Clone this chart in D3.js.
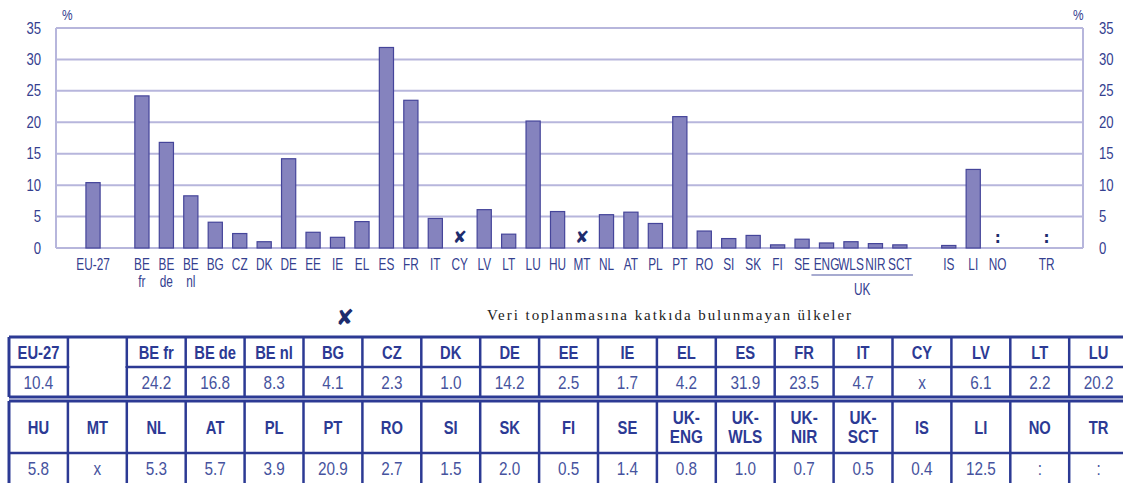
<!DOCTYPE html>
<html>
<head>
<meta charset="utf-8">
<script src="https://cdn.jsdelivr.net/npm/d3@7"></script>
<style>
  body { margin: 0; background: #fff; }
  svg { display: block; }
</style>
</head>
<body>
<script>
// data
var categories = ["EU-27","BE fr","BE de","BE nl","BG","CZ","DK","DE","EE","IE","EL","ES","FR","IT","CY","LV","LT","LU",
  "HU","MT","NL","AT","PL","PT","RO","SI","SK","FI","SE","UK-ENG","UK-WLS","UK-NIR","UK-SCT","IS","LI","NO","TR"];
var values = [10.4,24.2,16.8,8.3,4.1,2.3,1.0,14.2,2.5,1.7,4.2,31.9,23.5,4.7,"x",6.1,2.2,20.2,
  5.8,"x",5.3,5.7,3.9,20.9,2.7,1.5,2.0,0.5,1.4,0.8,1.0,0.7,0.5,0.4,12.5,":",":"];
// axis labels under the bars (two lines where needed)
var chartLabels = ["EU-27","BE|fr","BE|de","BE|nl","BG","CZ","DK","DE","EE","IE","EL","ES","FR","IT","CY","LV","LT","LU",
  "HU","MT","NL","AT","PL","PT","RO","SI","SK","FI","SE","ENG","WLS","NIR","SCT","IS","LI","NO","TR"];
// order of slots on the x axis, with empty slots
var slots = ["EU-27","_g1","BE fr","BE de","BE nl","BG","CZ","DK","DE","EE","IE","EL","ES","FR","IT","CY","LV","LT","LU",
  "HU","MT","NL","AT","PL","PT","RO","SI","SK","FI","SE","UK-ENG","UK-WLS","UK-NIR","UK-SCT","_g2","IS","LI","NO","_g3","TR"];
var ukGroup = ["UK-ENG","UK-WLS","UK-NIR","UK-SCT"];
var yTicks = [0,5,10,15,20,25,30,35];
// table rows
var tableTop = ["EU-27","","BE fr","BE de","BE nl","BG","CZ","DK","DE","EE","IE","EL","ES","FR","IT","CY","LV","LT","LU"];
var tableBottom = ["HU","MT","NL","AT","PL","PT","RO","SI","SK","FI","SE","UK-ENG","UK-WLS","UK-NIR","UK-SCT","IS","LI","NO","TR"];
var legendText = "Veri toplanmasına katkıda bulunmayan ülkeler";

var W = 1123, H = 483;
var navy = "#2c3a94", textBlue = "#34408f", grid = "#b7b6dc";
var sans = "'Liberation Sans', Arial, sans-serif";

var svg = d3.select("body").append("svg").attr("width", W).attr("height", H);

// squeezed text, since no condensed font is around
function label(g, cx, cy, lines, opt) {
  var t = g.append("text")
    .attr("transform", "translate(" + cx + "," + cy + ") scale(" + opt.sx + ",1)")
    .attr("text-anchor", opt.anchor || "middle")
    .attr("font-family", sans).attr("font-size", opt.size)
    .attr("font-weight", opt.bold ? "bold" : "normal")
    .attr("fill", opt.fill);
  lines.forEach(function(p, i) {
    t.append("tspan").attr("x", 0).attr("y", i * (opt.lh || 17)).text(p);
  });
  return t;
}

var plotL = 56, plotR = 1083;
var x = d3.scaleBand().domain(slots).range([80.8, 1058.8]).paddingInner(0.42).paddingOuter(0.21);
var y = d3.scaleLinear().domain([0, 35]).range([248, 28]);

var lookup = {};
categories.forEach(function(c, i) { lookup[c] = {label: chartLabels[i], value: values[i]}; });

svg.append("defs").append("clipPath").attr("id", "rclip")
  .append("rect").attr("x", 0).attr("y", 0).attr("width", 1115).attr("height", H);

// gridlines
svg.append("g").selectAll("line").data(yTicks).enter().append("line")
  .attr("x1", plotL).attr("x2", plotR)
  .attr("y1", function(d) { return y(d); }).attr("y2", function(d) { return y(d); })
  .attr("stroke", grid).attr("stroke-width", 2);

svg.append("line").attr("x1", plotL).attr("x2", plotL).attr("y1", y(35)).attr("y2", y(0))
  .attr("stroke", grid).attr("stroke-width", 2);
svg.append("line").attr("x1", plotR).attr("x2", plotR).attr("y1", y(35)).attr("y2", y(0))
  .attr("stroke", grid).attr("stroke-width", 2);

// y axes (ticks from d3, text squeezed)
var yl = svg.append("g").attr("transform", "translate(" + (plotL - 15) + ",0)")
  .call(d3.axisLeft(y).tickValues(yTicks).tickSize(0).tickPadding(0));
var yr = svg.append("g").attr("clip-path", "url(#rclip)").append("g")
  .attr("transform", "translate(" + (plotR + 16) + ",0)")
  .call(d3.axisRight(y).tickValues(yTicks).tickSize(0).tickPadding(0));
[yl, yr].forEach(function(g) {
  g.select(".domain").remove();
  g.attr("font-family", sans).attr("font-size", 16);
  g.selectAll("text").attr("fill", textBlue).attr("transform", "scale(0.82,1)")
    .attr("x", function() { return 0; });
});

label(svg, 62, 20, ["%"], {sx: 0.85, size: 14, fill: textBlue, anchor: "start"});
label(svg, 1073, 20, ["%"], {sx: 0.85, size: 14, fill: textBlue, anchor: "start"});

// bars
var numeric = categories.filter(function(c) { return typeof lookup[c].value === "number"; });
svg.append("g").selectAll("rect").data(numeric).enter().append("rect")
  .attr("x", function(d) { return x(d); })
  .attr("width", x.bandwidth())
  .attr("y", function(d) { return y(lookup[d].value); })
  .attr("height", function(d) { return y(0) - y(lookup[d].value); })
  .attr("fill", "#8583be").attr("stroke", "#45459a").attr("stroke-width", 1.2);

// markers for x and :
var missing = categories.filter(function(c) { return lookup[c].value === "x"; });
svg.append("g").selectAll("text").data(missing).enter().append("text")
  .attr("x", function(d) { return x(d) + x.bandwidth() / 2; })
  .attr("y", 243).attr("text-anchor", "middle")
  .attr("font-family", "DejaVu Sans").attr("font-size", 17)
  .attr("fill", "#1d2c6e").text("\u2718");
var na = categories.filter(function(c) { return lookup[c].value === ":"; });
svg.append("g").selectAll("text").data(na).enter().append("text")
  .attr("x", function(d) { return x(d) + x.bandwidth() / 2; })
  .attr("y", 243).attr("text-anchor", "middle")
  .attr("font-family", "DejaVu Sans").attr("font-size", 15).attr("font-weight", "bold")
  .attr("fill", "#1d2c6e").text(":");

// x labels
var xg = svg.append("g");
categories.forEach(function(d) {
  label(xg, x(d) + x.bandwidth() / 2, 270, lookup[d].label.split("|"),
    {sx: 0.74, size: 16, fill: textBlue, lh: 17});
});

// UK bracket
var ukL = x(ukGroup[0]) - 8, ukR = x(ukGroup[ukGroup.length - 1]) + x.bandwidth() + 6;
svg.append("line").attr("x1", ukL).attr("x2", ukR).attr("y1", 275).attr("y2", 275)
  .attr("stroke", "#8a8fc0").attr("stroke-width", 1.5);
label(svg, (ukL + ukR) / 2, 295, ["UK"], {sx: 0.74, size: 16, fill: textBlue});

// legend
svg.append("text").attr("x", 345).attr("y", 325).attr("text-anchor", "middle")
  .attr("font-family", "DejaVu Sans").attr("font-size", 22)
  .attr("fill", "#1d2c6e").text("\u2718");
svg.append("text").attr("x", 487).attr("y", 320)
  .attr("font-family", "'Liberation Serif', serif").attr("font-size", 15).attr("fill", "#222")
  .attr("textLength", 364).attr("lengthAdjust", "spacing").text(legendText);

// table
var tx0 = 9, colW = 58.9;
var fmt = function(v) { return typeof v === "number" ? v.toFixed(1) : v; };
var tbl = svg.append("g");
function drawRows(keys, yH, hH, hV) {
  keys.forEach(function(k, i) {
    var cx = tx0 + colW * (i + 0.5);
    if (k === "") return;
    if (k.indexOf("UK-") === 0) {
      label(tbl, cx, yH + hH / 2 - 3, ["UK-", k.slice(3)], {sx: 0.85, size: 18, bold: true, fill: navy, lh: 19});
    } else {
      label(tbl, cx, yH + hH / 2 + 6.5, [k], {sx: 0.82, size: 18, bold: true, fill: navy});
    }
    label(tbl, cx, yH + hH + hV / 2 + 6.5, [fmt(lookup[k].value)], {sx: 0.85, size: 18, fill: "#46539e"});
  });
}
drawRows(tableTop, 337, 30, 30);
drawRows(tableBottom, 401, 52, 30);

var lw = 2.5;
function hline(yy, w) {
  tbl.append("line").attr("x1", tx0).attr("x2", W + 10).attr("y1", yy).attr("y2", yy)
    .attr("stroke", navy).attr("stroke-width", w || lw);
}
hline(337, 3); hline(367); hline(397, 3); hline(401, 3); hline(453);
d3.range(0, 20).forEach(function(i) {
  var xx = tx0 + colW * i;
  tbl.append("line").attr("x1", xx).attr("x2", xx).attr("y1", 337).attr("y2", 397)
    .attr("stroke", navy).attr("stroke-width", i === 0 ? 3 : lw);
  tbl.append("line").attr("x1", xx).attr("x2", xx).attr("y1", 401).attr("y2", H + 5)
    .attr("stroke", navy).attr("stroke-width", i === 0 ? 3 : lw);
});
// the blank cell in the top table spans both rows
tbl.append("rect").attr("x", tx0 + colW + 1.5).attr("y", 365).attr("width", colW - 3).attr("height", 4)
  .attr("fill", "#fff");
</script>
</body>
</html>
